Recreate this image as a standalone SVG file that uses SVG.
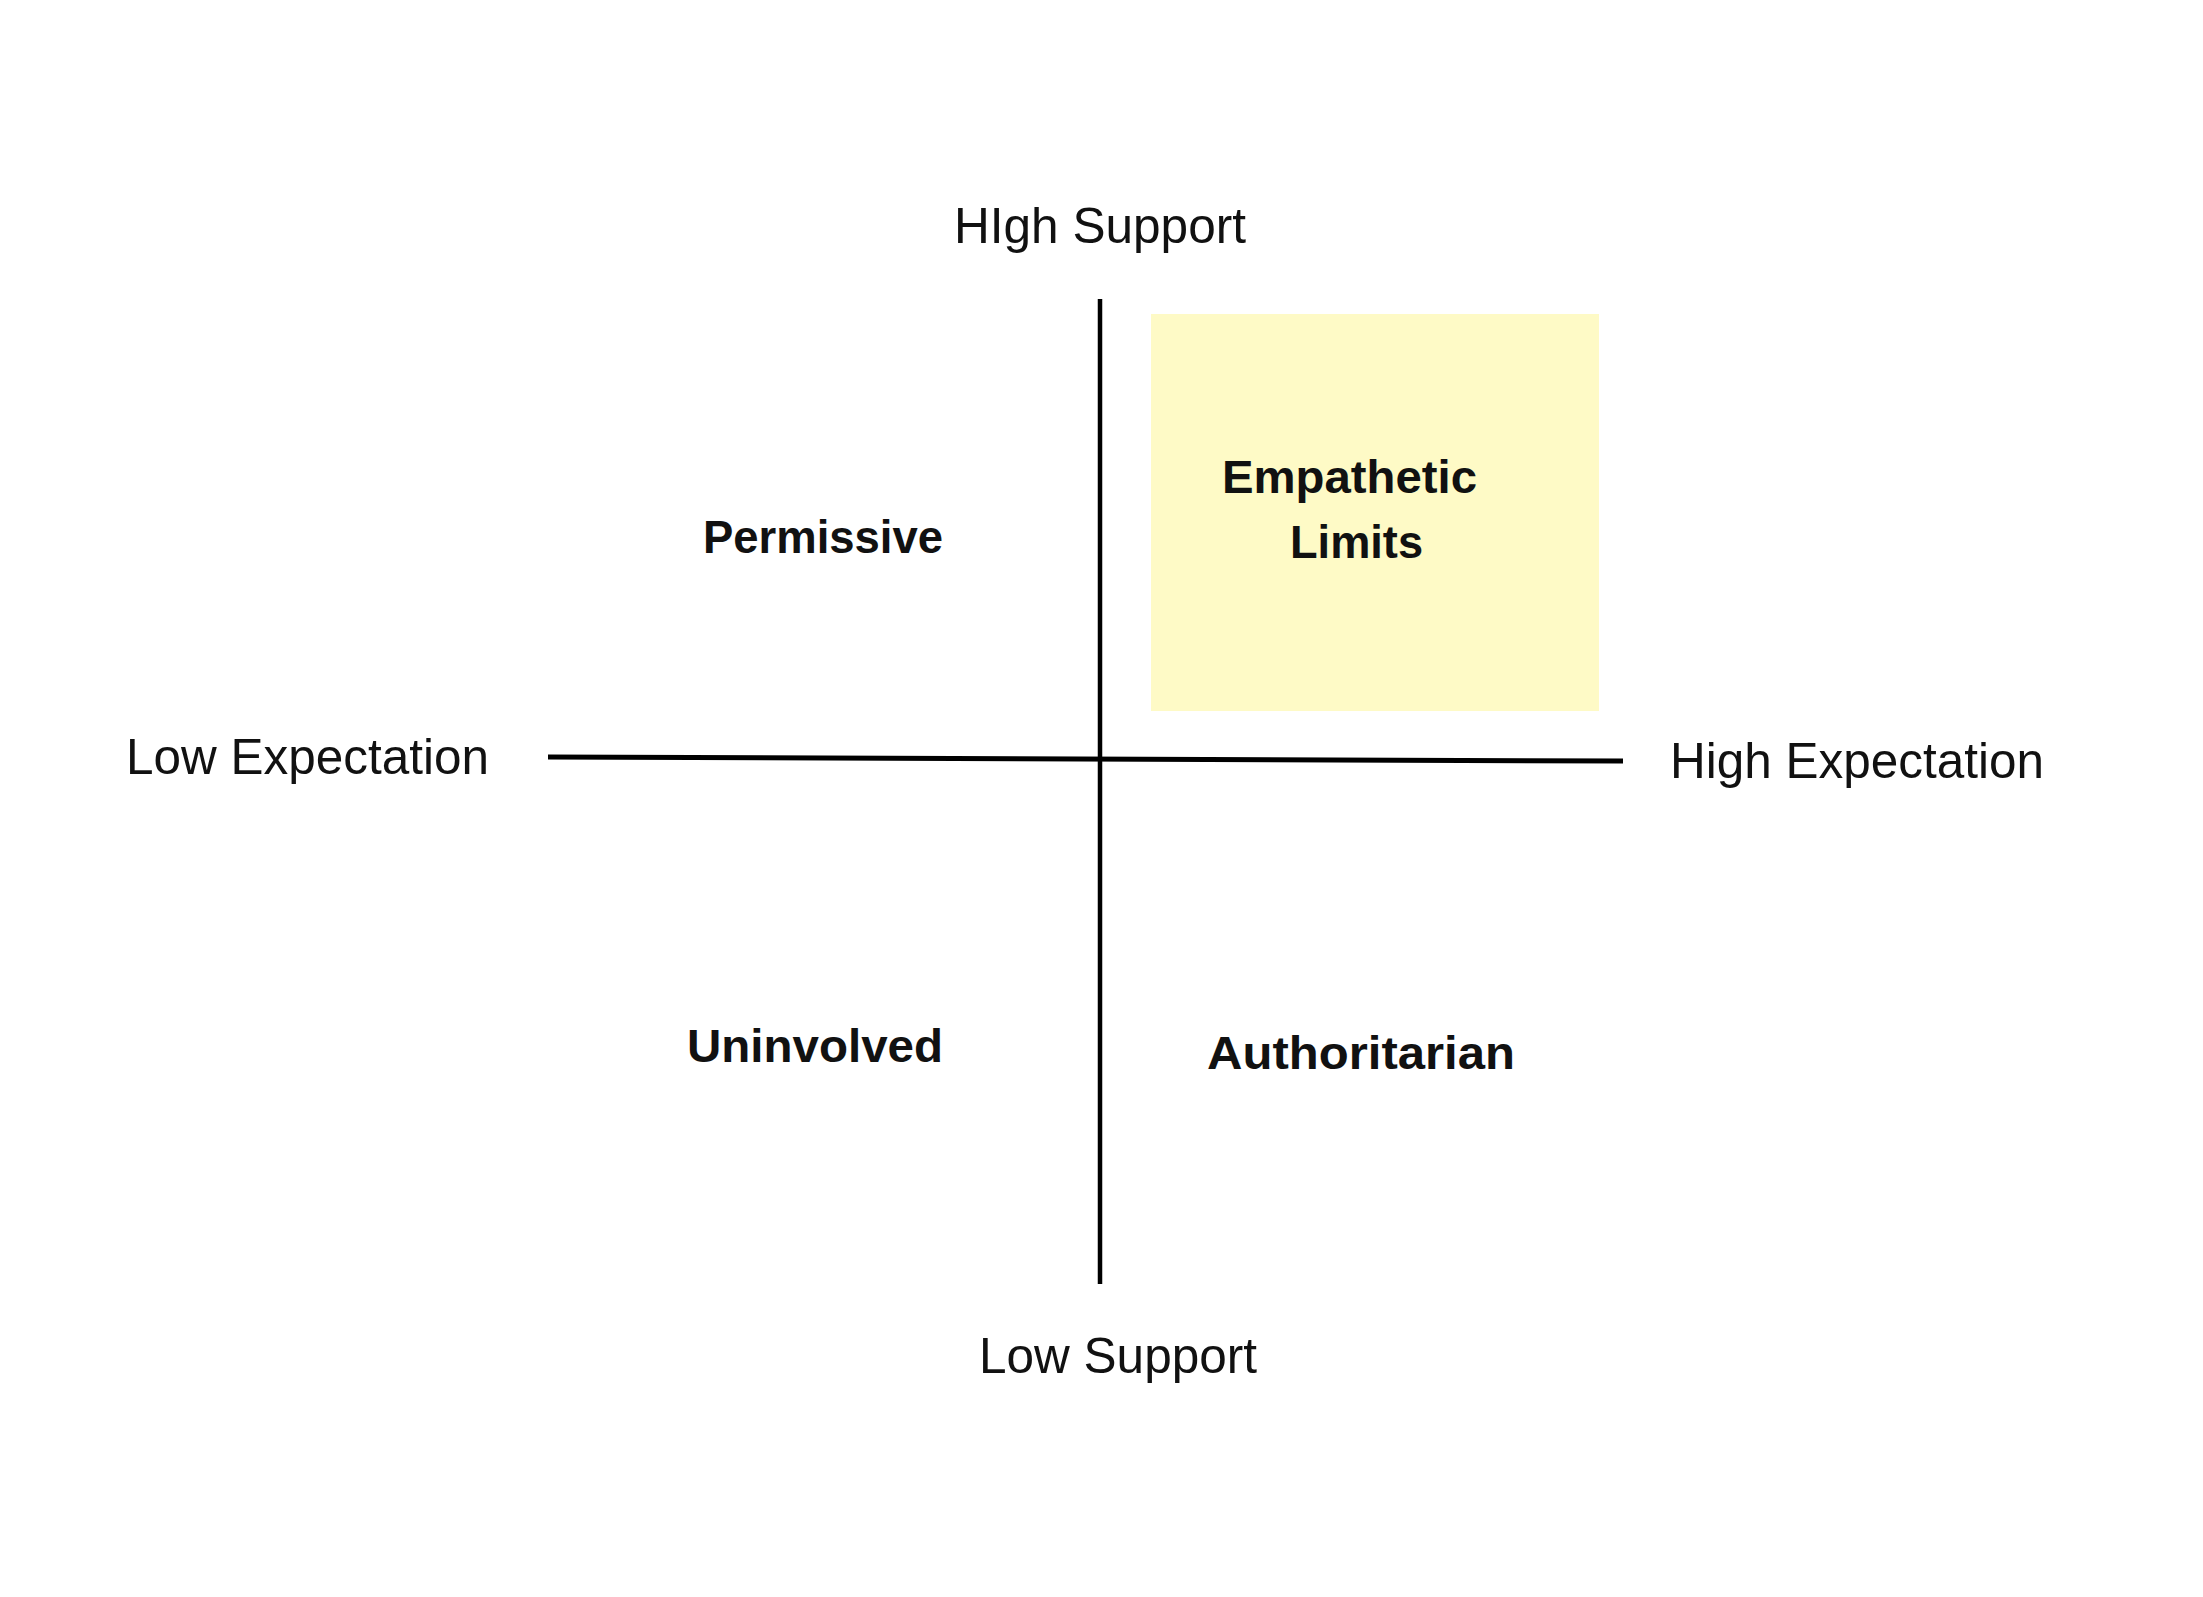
<svg xmlns="http://www.w3.org/2000/svg" width="2203" height="1597" viewBox="0 0 2203 1597">
<style>
  .axis { font-family: "Liberation Sans", Arial, sans-serif; font-size: 49.5px; fill: #111111; text-anchor: middle; }
  .quad { font-family: "Liberation Sans", Arial, sans-serif; font-size: 46.5px; font-weight: bold; fill: #111111; text-anchor: middle; }
  .line { stroke: #000000; fill: none; stroke-linecap: butt; }
</style>
<rect x="0" y="0" width="2203" height="1597" fill="#ffffff"/>
<g id="highlight">
  <rect x="1151" y="314" width="448" height="397" fill="#FEFAC6"/>
</g>
<g id="connectors">
  <line class="line" x1="1100" y1="299" x2="1100" y2="1284" stroke-width="4.5"/>
  <line class="line" x1="548" y1="757" x2="1623" y2="761" stroke-width="5"/>
</g>
<g id="axis-high-support"><text class="axis" x="1100" y="243" textLength="292" lengthAdjust="spacingAndGlyphs">HIgh Support</text></g>
<g id="axis-low-support"><text class="axis" x="1118" y="1373" textLength="278" lengthAdjust="spacingAndGlyphs">Low Support</text></g>
<g id="axis-low-expectation"><text class="axis" x="307.5" y="774" textLength="363" lengthAdjust="spacingAndGlyphs">Low Expectation</text></g>
<g id="axis-high-expectation"><text class="axis" x="1857" y="778" textLength="374" lengthAdjust="spacingAndGlyphs">High Expectation</text></g>
<g id="node-permissive"><text class="quad" x="823" y="553" textLength="240" lengthAdjust="spacingAndGlyphs">Permissive</text></g>
<g id="node-empathetic-limits">
  <text class="quad" x="1349.5" y="493" textLength="255" lengthAdjust="spacingAndGlyphs">Empathetic</text>
  <text class="quad" x="1356.5" y="558" textLength="133" lengthAdjust="spacingAndGlyphs">Limits</text>
</g>
<g id="node-uninvolved"><text class="quad" x="815" y="1062" textLength="256" lengthAdjust="spacingAndGlyphs">Uninvolved</text></g>
<g id="node-authoritarian"><text class="quad" x="1361" y="1069" textLength="308" lengthAdjust="spacingAndGlyphs">Authoritarian</text></g>
</svg>
